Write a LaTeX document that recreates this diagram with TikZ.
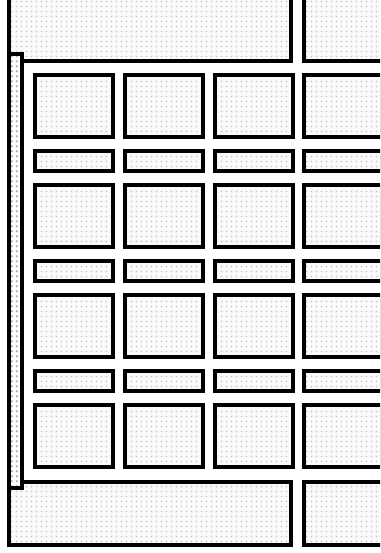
\documentclass[tikz,border=0pt]{standalone}
\usepackage{tikz}
\usetikzlibrary{patterns}
\pgfdeclarepatternformonly{softdots}{\pgfqpoint{-1pt}{-1pt}}{\pgfqpoint{4pt}{4pt}}{\pgfqpoint{5pt}{5pt}}%
{\pgfpathcircle{\pgfqpoint{1.5pt}{1.5pt}}{0.9pt}\pgfusepath{fill}}
\pgfdeclarepatternformonly{raildots}{\pgfqpoint{0pt}{0pt}}{\pgfqpoint{5pt}{5pt}}{\pgfqpoint{5pt}{5pt}}%
{\pgfpathrectangle{\pgfqpoint{1pt}{1pt}}{\pgfqpoint{2pt}{2pt}}\pgfusepath{fill}}
\tikzset{
  panel/.style={draw, line width=4.5pt, preaction={fill=gray!4}, pattern=softdots, pattern color=gray!45,
    inner sep=0pt, outer sep=0pt, anchor=north west},
  bigcell/.style={panel, minimum width=78pt, minimum height=62pt},
  thincell/.style={panel, minimum width=78pt, minimum height=20pt},
  rail/.style={draw, line width=4.5pt, preaction={fill=white}, pattern=raildots, pattern color=gray!70,
    inner sep=0pt, outer sep=0pt, anchor=north west, minimum width=13pt, minimum height=434pt},
}
\begin{document}
\begin{tikzpicture}[x=1pt, y=-1pt]
  \useasboundingbox (0,0) rectangle (380,553);
  \clip (0,0) rectangle (380,553);
  % header and footer
  \node[panel, minimum width=282pt, minimum height=71pt] (head) at (9,-10) {};
  \node[panel, minimum width=100pt, minimum height=71pt] (headr) at (304,-10) {};
  \node[panel, minimum width=282pt, minimum height=63pt] (foot) at (9,482) {};
  \node[panel, minimum width=100pt, minimum height=63pt] (footr) at (304,482) {};
  % grid of cells
  \foreach \c [count=\i] in {35,125,215,304} {
    \foreach \r [count=\j] in {75,185,295,405} {
      \node[bigcell] (big-\j-\i) at (\c,\r) {};
    }
    \foreach \r [count=\j] in {151,261,371} {
      \node[thincell] (thin-\j-\i) at (\c,\r) {};
    }
  }
  % side rail
  \node[rail] (rail) at (9,54) {};
\end{tikzpicture}
\end{document}
